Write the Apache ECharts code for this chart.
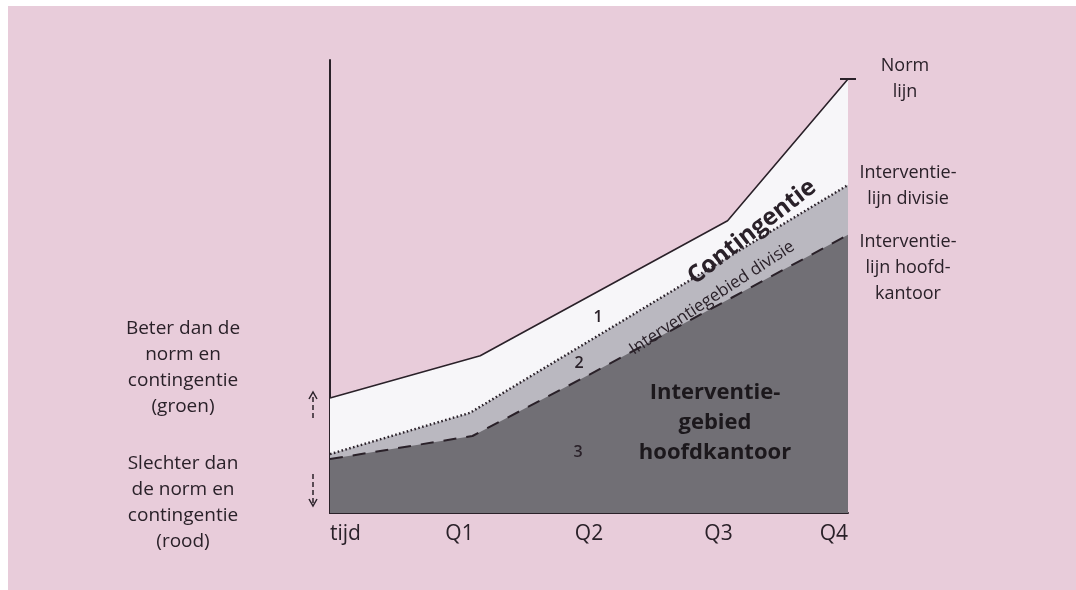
<!DOCTYPE html>
<html>
<head>
<meta charset="utf-8">
<script src="https://cdn.jsdelivr.net/npm/echarts@6/dist/echarts.min.js"></script>
<style>
html,body{margin:0;padding:0;background:#ffffff;}
#chart{width:1076px;height:590px;}
</style>
</head>
<body>
<div id="chart"></div>
<script>
// Tick labels along the time axis
const tickLabels = ['tijd', 'Q1', 'Q2', 'Q3', 'Q4'];

// Norm lijn (solid)
const normX = [0, 1.16, 3.07, 4];
const normY = [25.4, 34.7, 64.5, 95.8];

// Interventielijn divisie (dotted)
const divisieX = [0, 1.08, 4];
const divisieY = [13.0, 22.1, 72.4];

// Interventielijn hoofdkantoor (dashed)
const hoofdX = [0, 1.10, 2.0, 4];
const hoofdY = [11.9, 17.0, 30.5, 61.4];

function pairs(xs, ys) { return xs.map((x, i) => [x, ys[i]]); }

const INK = '#2a2129';
const FONT = '"Open Sans", "DejaVu Sans", sans-serif';

const chart = echarts.init(document.getElementById('chart'));
chart.setOption({
  backgroundColor: '#e8ccda',
  animation: false,
  grid: [
    { left: 330, right: 228, top: 60, bottom: 77 },
    { left: 330, right: 228, top: 70, bottom: 77 }
  ],
  xAxis: [
    {
      type: 'value', gridIndex: 0, min: 0, max: 4, interval: 1,
      axisLine: { show: true, lineStyle: { color: INK, width: 2 } },
      axisTick: { show: false },
      splitLine: { show: false },
      axisLabel: {
        formatter: v => tickLabels[v] || '',
        color: INK, fontSize: 21, fontFamily: FONT, margin: 11,
        alignMinLabel: 'left', alignMaxLabel: 'right'
      }
    },
    { type: 'value', gridIndex: 1, min: 0, max: 4, show: false }
  ],
  yAxis: [
    {
      type: 'value', gridIndex: 0, min: 0, max: 100,
      axisLine: { show: true, lineStyle: { color: INK, width: 2 } },
      axisTick: { show: false }, axisLabel: { show: false }, splitLine: { show: false }
    },
    {
      type: 'value', gridIndex: 1, min: 0, max: 100, position: 'right',
      axisLine: { show: true, lineStyle: { color: INK, width: 2 } },
      axisTick: { show: false }, axisLabel: { show: false }, splitLine: { show: false }
    }
  ],
  series: [
    {
      name: 'Norm lijn', type: 'line', data: pairs(normX, normY),
      symbol: 'none', silent: true, z: 2,
      lineStyle: { color: INK, width: 1.6 },
      areaStyle: { color: '#f7f6f9', opacity: 1 },
      markPoint: {
        silent: true, symbol: 'rect', symbolSize: [16, 2],
        itemStyle: { color: INK }, label: { show: false },
        data: [{ coord: [normX[normX.length - 1], normY[normY.length - 1]] }]
      }
    },
    {
      name: 'Interventielijn divisie', type: 'line', data: pairs(divisieX, divisieY),
      symbol: 'none', silent: true, z: 3,
      lineStyle: { color: INK, width: 2.4, type: [1.6, 2.4] },
      areaStyle: { color: '#bab8c0', opacity: 1 }
    },
    {
      name: 'Interventielijn hoofdkantoor', type: 'line', data: pairs(hoofdX, hoofdY),
      symbol: 'none', silent: true, z: 4,
      lineStyle: { color: INK, width: 2, type: [13, 10] },
      areaStyle: { color: '#716f75', opacity: 1 }
    }
  ],
  graphic: [
    { type: 'rect', shape: { x: 0, y: 0, width: 1076, height: 6 }, style: { fill: '#ffffff' }, z: 100 },
    { type: 'rect', shape: { x: 0, y: 0, width: 8, height: 590 }, style: { fill: '#ffffff' }, z: 100 },
    // Left explanations
    { type: 'text', x: 183, y: 316, style: { text: 'Beter dan de\nnorm en\ncontingentie\n(groen)', align: 'center', verticalAlign: 'top', font: '19px ' + FONT, lineHeight: 26, fill: INK }, z: 50 },
    { type: 'text', x: 183, y: 451, style: { text: 'Slechter dan\nde norm en\ncontingentie\n(rood)', align: 'center', verticalAlign: 'top', font: '19px ' + FONT, lineHeight: 26, fill: INK }, z: 50 },
    // Arrows
    { type: 'line', shape: { x1: 313, y1: 397, x2: 313, y2: 421 }, style: { stroke: INK, lineWidth: 1.5, lineDash: [5, 3] }, z: 50 },
    { type: 'polyline', shape: { points: [[309, 399], [313, 392], [317, 399]] }, style: { stroke: INK, lineWidth: 1.5, fill: null }, z: 50 },
    { type: 'line', shape: { x1: 313, y1: 474, x2: 313, y2: 505 }, style: { stroke: INK, lineWidth: 1.5, lineDash: [5, 3] }, z: 50 },
    { type: 'polyline', shape: { points: [[309, 499], [313, 506], [317, 499]] }, style: { stroke: INK, lineWidth: 1.5, fill: null }, z: 50 },
    // Right labels
    { type: 'text', x: 905, y: 53, style: { text: 'Norm\nlijn', align: 'center', verticalAlign: 'top', font: '18px ' + FONT, lineHeight: 26, fill: INK }, z: 50 },
    { type: 'text', x: 908, y: 160, style: { text: 'Interventie-\nlijn divisie', align: 'center', verticalAlign: 'top', font: '18px ' + FONT, lineHeight: 26, fill: INK }, z: 50 },
    { type: 'text', x: 908, y: 229, style: { text: 'Interventie-\nlijn hoofd-\nkantoor', align: 'center', verticalAlign: 'top', font: '18px ' + FONT, lineHeight: 26, fill: INK }, z: 50 },
    // In-plot labels
    { type: 'text', x: 752, y: 232, rotation: 0.66, style: { text: 'Contingentie', align: 'center', verticalAlign: 'middle', font: 'bold 24px ' + FONT, fill: INK }, z: 50 },
    { type: 'text', x: 712, y: 298, rotation: 0.58, style: { text: 'Interventiegebied divisie', align: 'center', verticalAlign: 'middle', font: '17px ' + FONT, fill: INK }, z: 50 },
    { type: 'text', x: 598, y: 317, style: { text: '1', align: 'center', verticalAlign: 'middle', font: '600 16px ' + FONT, fill: INK }, z: 50 },
    { type: 'text', x: 579, y: 363, style: { text: '2', align: 'center', verticalAlign: 'middle', font: '600 16px ' + FONT, fill: INK }, z: 50 },
    { type: 'text', x: 578, y: 452, style: { text: '3', align: 'center', verticalAlign: 'middle', font: '600 16px ' + FONT, fill: INK }, z: 50 },
    { type: 'text', x: 715, y: 378, style: { text: 'Interventie-\ngebied\nhoofdkantoor', align: 'center', verticalAlign: 'top', font: 'bold 22px ' + FONT, lineHeight: 30, fill: '#1c181c' }, z: 50 }
  ]
});
</script>
</body>
</html>
